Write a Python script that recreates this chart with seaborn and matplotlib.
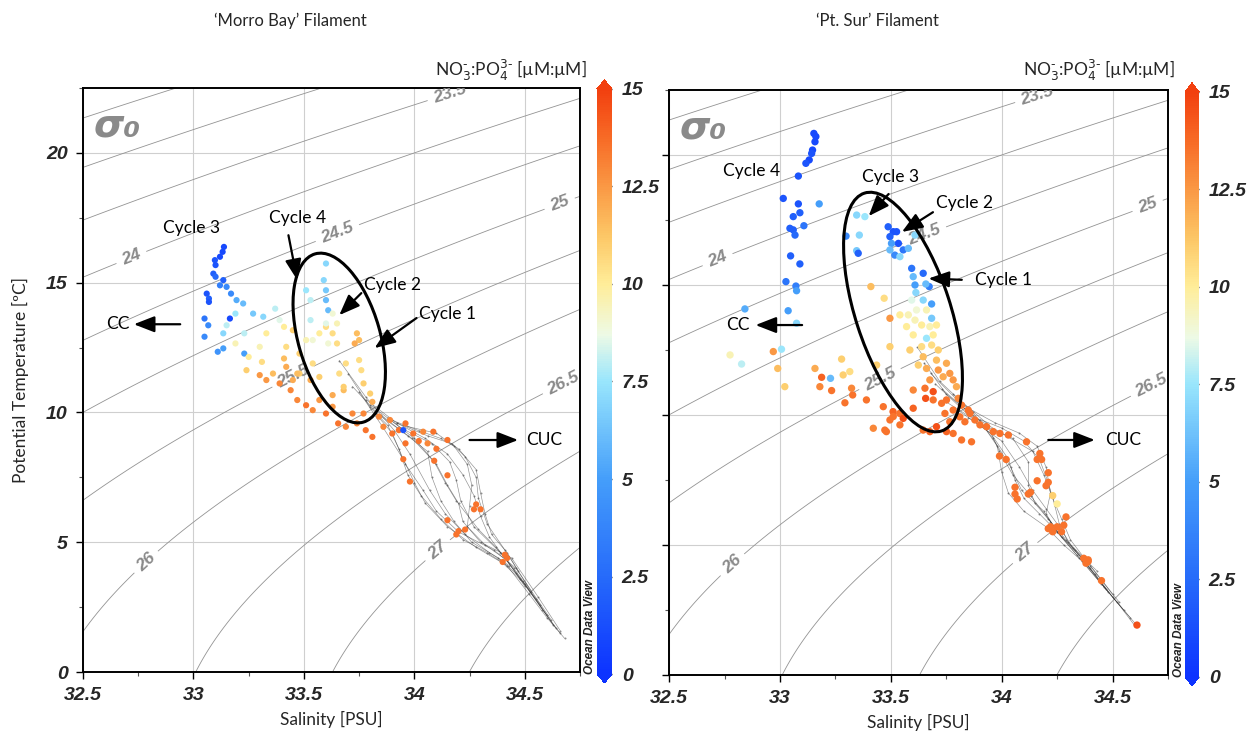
import numpy as np
import pandas as pd
import matplotlib
matplotlib.use("Agg")
import matplotlib.pyplot as plt
import seaborn as sns
from matplotlib.colors import LinearSegmentedColormap, Normalize
from matplotlib.patches import Ellipse
from matplotlib.transforms import ScaledTranslation
import matplotlib.cm as cm

# ---------------------------------------------------------------------------
# Bottle samples: salinity [PSU], potential temperature [degC], NO3:PO4 ratio
# ---------------------------------------------------------------------------
morro_sal = [33.138, 33.132, 33.12, 33.097, 33.10, 33.09, 33.10, 33.135, 33.06, 33.07,
             33.07, 33.12, 33.15, 33.17, 33.195, 33.225, 33.165, 33.05, 33.067, 33.05,
             33.135, 33.11, 33.23, 33.27, 33.316, 33.37, 33.39, 33.15, 33.19, 33.25,
             33.31, 33.36, 33.42, 33.24, 33.30, 33.33, 33.39, 33.44, 33.47, 33.51,
             33.54, 33.60, 33.655, 33.69, 33.74, 33.78, 33.81, 33.86, 33.90, 33.93,
             33.995, 34.04, 34.086, 33.84, 33.77, 33.57, 33.63, 33.68, 33.45, 33.48,
             33.53, 33.57, 33.54, 33.48, 33.42, 33.51, 33.57, 33.60, 33.63, 33.65,
             33.74, 33.75, 33.73, 33.75, 33.76, 33.77, 33.69, 33.66, 33.68, 33.80,
             33.81, 33.60, 33.59, 33.60, 33.60, 33.61, 33.51, 33.53, 33.60, 33.61,
             33.53, 33.54, 33.65, 33.63, 33.45, 33.41, 33.33, 33.30, 33.19, 33.23,
             33.135, 33.47, 33.41, 33.63, 33.72, 33.89, 33.96, 34.15, 34.06, 33.96,
             33.95, 33.95, 34.09, 34.15, 33.98, 34.28, 34.30, 34.27, 34.15, 34.23,
             34.20, 34.19, 34.41, 34.42, 34.40, 34.02, 34.10]
morro_temp = [16.38, 16.19, 16.0, 15.87, 15.68, 15.35, 15.23, 15.1, 14.58, 14.39,
              14.26, 14.9, 14.84, 14.58, 14.33, 14.2, 13.62, 13.62, 13.36, 12.92,
              12.47, 12.34, 12.27, 13.81, 13.69, 14.0, 13.56, 13.36, 12.66, 12.14,
              11.95, 11.5, 11.76, 11.63, 11.44, 11.25, 11.12, 10.86, 10.48, 10.28,
              10.09, 9.96, 9.58, 9.45, 9.58, 9.32, 9.06, 9.45, 9.19, 9.32,
              9.19, 9.26, 9.26, 9.84, 9.96, 10.48, 10.67, 10.86, 11.25, 11.5,
              11.25, 11.37, 11.89, 12.27, 12.53, 12.79, 13.05, 13.3, 13.05, 12.66,
              13.05, 12.79, 12.66, 12.02, 11.63, 11.12, 11.89, 11.5, 10.99, 10.73,
              10.41, 15.74, 15.1, 14.71, 14.33, 13.94, 14.71, 14.33, 13.43, 12.66,
              13.56, 12.79, 13.43, 13.81, 13.17, 13.3, 13.05, 12.53, 13.81, 13.05,
              13.05, 11.5, 12.08, 10.22, 9.96, 9.71, 9.58, 8.94, 8.81, 8.81,
              9.32, 8.2, 8.14, 7.58, 7.34, 6.46, 6.27, 6.27, 5.85, 5.49,
              5.43, 5.3, 4.52, 4.39, 4.24, 8.9, 8.6]
morro_ratio = [1, 1, 1, 1.5, 1.5, 2, 2.5, 2, 1.5, 2,
               1.5, 3.5, 4, 4, 5.5, 6, 1, 3, 4, 4,
               5, 4.5, 5, 6.5, 7, 8, 8.5, 8, 9.5, 10,
               10.5, 11.5, 12, 11, 12.5, 12.5, 13, 13, 13, 13.5,
               13, 13.5, 13.5, 13, 13, 13.5, 13.5, 13, 13.5, 13.5,
               13.5, 13, 13.5, 13, 13, 12.5, 12, 11.5, 12, 11,
               12, 11, 10.5, 11, 10.5, 9.5, 10, 10.5, 10.5, 10.5,
               11.5, 11.5, 12, 10.5, 10.5, 11, 10.5, 10.5, 11, 11,
               12, 7, 7, 6.5, 6, 6, 7.5, 8, 8.5, 9,
               8, 9, 9.5, 9, 11, 10, 10, 9.5, 7.5, 8,
               7, 11.5, 11.5, 12.5, 13, 13, 13.5, 13.5, 13, 13.5,
               1.5, 13.5, 13.5, 13.5, 13.5, 13.5, 13.5, 13.5, 13.5, 13.5,
               13.5, 13.5, 13.5, 13.5, 13.5, 13.5, 13.5]

sur_sal = [33.153, 33.162, 33.158, 33.147, 33.143, 33.132, 33.117, 33.083, 33.015, 33.083,
           33.09, 33.06, 33.045, 33.06, 33.068, 33.108, 33.048, 33.09, 33.027, 33.072,
           33.075, 33.037, 33.177, 32.842, 33.075, 33.007, 32.827, 32.775, 32.97, 32.99,
           33.022, 33.158, 33.188, 33.18, 33.233, 33.228, 33.285, 33.315, 33.278, 33.323,
           33.328, 33.39, 33.293, 33.436, 33.41, 33.47, 33.496, 33.496, 33.466, 33.51,
           33.54, 33.496, 33.48, 33.556, 33.601, 33.346, 33.383, 33.358, 33.298, 33.346,
           33.353, 33.488, 33.511, 33.496, 33.526, 33.534, 33.503, 33.556, 33.518, 33.496,
           33.541, 33.609, 33.579, 33.594, 33.646, 33.601, 33.609, 33.673, 33.658, 33.613,
           33.594, 33.646, 33.684, 33.616, 33.579, 33.661, 33.684, 33.541, 33.609, 33.639,
           33.676, 33.706, 33.571, 33.601, 33.661, 33.691, 33.639, 33.684, 33.586, 33.714,
           33.646, 33.706, 33.751, 33.661, 33.624, 33.714, 33.766, 33.781, 33.736, 33.676,
           33.796, 33.601, 33.654, 33.691, 33.691, 33.729, 33.751, 33.804, 33.819, 33.781,
           33.744, 33.849, 33.857, 33.811, 33.766, 33.834, 33.879, 33.902, 33.932, 33.962,
           33.992, 34.03, 33.706, 33.676, 33.646, 33.751, 33.781, 33.819, 33.864, 34.112,
           34.172, 33.541, 33.421, 33.473, 33.511, 33.657, 33.99, 34.02, 34.16, 34.18,
           34.21, 34.16, 34.21, 34.20, 34.06, 34.06, 34.12, 34.13, 34.07, 34.23,
           34.25, 34.29, 34.22, 34.23, 34.21, 34.25, 34.27, 34.28, 34.37, 34.39,
           34.38, 34.39, 34.45, 34.61]
sur_temp = [20.83, 20.71, 20.51, 20.19, 20.06, 19.81, 19.68, 19.19, 18.33, 18.12,
            17.78, 17.63, 17.18, 17.12, 16.92, 17.28, 16.12, 15.81, 15.13, 14.96,
            14.78, 14.01, 18.12, 14.08, 13.53, 12.53, 11.96, 12.31, 12.44, 11.79,
            11.09, 11.79, 11.45, 11.09, 10.94, 11.41, 11.54, 11.67, 12.15, 11.03,
            10.77, 10.58, 10.47, 11.92, 14.94, 14.49, 13.72, 12.63, 10.32, 10.13,
            10.06, 9.81, 9.36, 9.87, 10.26, 17.69, 17.63, 16.92, 16.88, 16.32,
            16.22, 17.24, 17.05, 16.86, 17.05, 16.6, 16.6, 16.35, 16.15, 16.35,
            16.09, 16.92, 16.41, 15.64, 15.45, 15.32, 15.0, 14.94, 15.04, 14.71,
            14.42, 14.42, 14.27, 14.04, 13.85, 14.04, 13.72, 13.85, 13.65, 13.46,
            13.4, 13.46, 13.4, 13.08, 12.95, 13.08, 12.63, 12.69, 12.5, 12.5,
            12.24, 12.11, 11.99, 11.79, 11.92, 11.73, 11.6, 11.35, 11.47, 11.35,
            11.09, 10.96, 11.03, 10.9, 10.58, 10.45, 10.58, 10.64, 10.38, 10.19,
            10.06, 10.19, 10.06, 9.93, 9.74, 9.74, 9.81, 9.62, 9.55, 9.36,
            9.29, 9.23, 9.55, 9.36, 9.42, 9.36, 9.29, 9.04, 8.97, 8.97,
            8.52, 9.62, 9.49, 9.42, 9.94, 10.64, 8.42, 8.29, 8.29, 8.29,
            7.78, 7.47, 7.41, 7.28, 7.22, 6.96, 6.96, 7.03, 6.77, 6.9,
            6.58, 6.08, 5.7, 5.51, 5.63, 5.7, 5.51, 5.76, 4.49, 4.43,
            4.3, 4.37, 3.63, 1.92]
sur_ratio = [1, 1, 1, 1, 1.5, 1, 1.5, 1.5, 1.5, 1.5,
             2, 2, 2, 2, 2.5, 3, 2, 2, 3, 3.5,
             5, 5, 5, 5.5, 7, 7.5, 8, 9.5, 12.5, 11.5,
             11, 12, 14, 13, 13.5, 6, 11, 10.5, 11, 13,
             13.5, 13.5, 13.5, 11, 11.5, 10.5, 12.5, 11, 13.5, 14,
             13.5, 13.5, 13.5, 14.5, 14, 7, 7.5, 7, 4, 6.5,
             2, 2, 1.5, 2, 1.5, 1.5, 5, 3, 4, 6,
             7, 7, 6, 3, 2.5, 6, 5, 3.5, 6, 7,
             8.5, 7, 5, 9, 9.5, 9.5, 6.5, 10, 9.5, 10,
             9.5, 10, 10, 10, 7.5, 10, 10.5, 10.5, 11, 11,
             11.5, 11.5, 12, 12, 11, 12.5, 12.5, 12.5, 12, 12.5,
             12, 13, 13.5, 14.5, 13.5, 13.5, 13.5, 13, 13.5, 13.5,
             13.5, 13.5, 13.5, 13.5, 13.5, 13.5, 13.5, 13.5, 13.5, 13.5,
             13.5, 13.5, 14.5, 14, 13.5, 14, 13.5, 13.5, 13.5, 13.5,
             13.5, 13.5, 13, 13.5, 13.5, 14.5, 13.5, 13.5, 13.5, 13.5,
             13.5, 13.5, 13.5, 13.5, 13.5, 13.5, 13.5, 13.5, 13.5, 11,
             10, 13.5, 13.5, 13.5, 13.5, 13.5, 13.5, 13.5, 13.5, 13.5,
             13.5, 13.5, 13.5, 14.5]

# ---------------------------------------------------------------------------
# Continuous CTD casts (thin grey traces): cast id, salinity, temperature
# ---------------------------------------------------------------------------
morro_ctd_cast = ([1] * 13 + [2] * 12 + [3] * 11 + [4] * 11 + [5] * 10 + [6] * 9 + [7] * 10
                  + [8] * 9 + [9] * 10 + [10] * 10 + [11] * 9 + [12] * 9)
morro_ctd_sal = [33.70, 33.80, 33.88, 33.93, 33.97, 34.03, 34.12, 34.22, 34.33, 34.42, 34.52, 34.60, 34.68,
                 33.78, 33.92, 34.05, 34.15, 34.22, 34.27, 34.30, 34.34, 34.40, 34.48, 34.58, 34.66,
                 33.85, 33.97, 34.06, 34.08, 34.12, 34.18, 34.26, 34.38, 34.46, 34.55, 34.63,
                 33.90, 34.02, 34.12, 34.18, 34.24, 34.26, 34.25, 34.24, 34.32, 34.42, 34.50,
                 33.75, 33.86, 33.95, 34.00, 34.05, 34.15, 34.28, 34.40, 34.50, 34.60,
                 33.95, 34.10, 34.20, 34.28, 34.30, 34.32, 34.35, 34.42, 34.47,
                 33.88, 34.00, 34.10, 34.15, 34.20, 34.22, 34.30, 34.44, 34.56, 34.66,
                 33.82, 33.90, 33.96, 34.04, 34.10, 34.20, 34.36, 34.46, 34.62,
                 33.72, 33.84, 33.99, 34.09, 34.14, 34.19, 34.29, 34.37, 34.45, 34.57,
                 33.80, 33.94, 34.08, 34.16, 34.19, 34.21, 34.27, 34.39, 34.49, 34.64,
                 33.66, 33.78, 33.91, 33.98, 34.07, 34.14, 34.23, 34.34, 34.43,
                 33.92, 34.06, 34.17, 34.23, 34.28, 34.29, 34.33, 34.41, 34.53]
morro_ctd_temp = [11.5, 10.2, 9.5, 8.6, 7.6, 6.8, 5.9, 5.1, 4.6, 4.1, 3.0, 2.1, 1.3,
                  10.5, 9.6, 9.0, 8.4, 7.6, 6.8, 6.0, 5.2, 4.5, 3.6, 2.4, 1.5,
                  9.9, 9.1, 8.5, 7.5, 6.6, 5.8, 5.0, 4.4, 3.8, 2.8, 1.8,
                  9.7, 9.3, 9.0, 8.7, 8.0, 7.2, 6.4, 5.6, 4.9, 4.3, 3.3,
                  10.8, 9.4, 8.2, 7.3, 6.5, 5.6, 4.8, 4.2, 3.4, 2.2,
                  9.5, 9.2, 8.6, 7.8, 6.9, 6.1, 5.3, 4.6, 3.9,
                  9.8, 9.0, 8.0, 7.2, 6.5, 5.8, 5.0, 4.4, 2.9, 1.6,
                  10.0, 9.2, 8.0, 7.0, 6.2, 5.4, 4.7, 4.0, 2.0,
                  11.0, 9.9, 9.0, 8.1, 7.3, 6.6, 5.5, 4.8, 4.0, 2.6,
                  10.3, 9.4, 8.8, 8.1, 7.4, 6.6, 5.6, 4.6, 3.5, 1.7,
                  12.0, 10.6, 9.3, 8.4, 7.0, 6.1, 5.3, 4.6, 4.1,
                  9.6, 9.1, 8.8, 8.3, 7.5, 6.7, 5.7, 4.7, 3.1]

sur_ctd_cast = ([1] * 13 + [2] * 12 + [3] * 12 + [4] * 10 + [5] * 12 + [6] * 9
                + [7] * 10 + [8] * 10 + [9] * 9)
sur_ctd_sal = [33.65, 33.75, 33.90, 33.98, 34.00, 34.03, 34.10, 34.20, 34.28, 34.36, 34.44, 34.52, 34.60,
               33.70, 33.85, 34.00, 34.10, 34.17, 34.21, 34.24, 34.26, 34.30, 34.38, 34.46, 34.55,
               33.75, 33.92, 34.05, 34.12, 34.12, 34.15, 34.22, 34.27, 34.34, 34.42, 34.50, 34.60,
               33.80, 33.95, 34.03, 34.06, 34.10, 34.17, 34.24, 34.33, 34.40, 34.48,
               33.68, 33.82, 33.97, 34.08, 34.16, 34.20, 34.22, 34.20, 34.25, 34.35, 34.45, 34.58,
               33.85, 34.00, 34.08, 34.14, 34.20, 34.26, 34.32, 34.40, 34.50,
               33.62, 33.72, 33.87, 33.96, 34.04, 34.09, 34.19, 34.25, 34.36, 34.47,
               33.73, 33.88, 34.02, 34.14, 34.19, 34.23, 34.27, 34.31, 34.39, 34.53,
               33.78, 33.93, 33.99, 34.05, 34.13, 34.21, 34.29, 34.37, 34.43]
sur_ctd_temp = [12.0, 10.8, 9.8, 8.8, 7.8, 7.0, 6.3, 5.7, 5.0, 4.4, 3.6, 2.8, 1.9,
                11.2, 10.0, 9.5, 9.0, 8.3, 7.4, 6.5, 5.8, 5.1, 4.3, 3.4, 2.5,
                10.5, 9.6, 9.1, 8.2, 7.3, 6.6, 5.9, 5.3, 4.6, 3.9, 3.0, 2.0,
                10.2, 9.3, 8.3, 7.5, 6.8, 6.2, 5.6, 4.8, 4.1, 3.2,
                11.6, 10.4, 9.7, 9.3, 8.8, 8.0, 7.0, 6.2, 5.5, 4.5, 3.5, 2.2,
                9.9, 9.0, 8.0, 7.1, 6.4, 5.7, 4.9, 4.2, 3.1,
                12.6, 11.3, 10.1, 9.1, 8.0, 7.1, 6.3, 5.5, 4.5, 3.3,
                11.0, 9.9, 9.2, 8.6, 7.7, 6.8, 6.0, 5.2, 4.3, 2.8,
                10.8, 9.7, 8.6, 7.7, 6.9, 6.0, 5.2, 4.5, 4.0]

# Isopycnal levels (sigma-0) and their label anchors (salinity, temperature)
sigma_levels = [21.0, 21.5, 22.0, 22.5, 23.0, 23.5, 24.0, 24.5, 25.0, 25.5,
                26.0, 26.5, 27.0, 27.5, 28.0]
sigma_label_sal = [34.16, 32.72, 33.65, 34.66, 33.45, 34.68, 32.79, 34.11]
sigma_label_temp = [22.3, 15.95, 16.95, 18.0, 11.4, 11.05, 4.2, 4.65]

panel_titles = ["\u2018Morro Bay\u2019 Filament", "\u2018Pt. Sur\u2019 Filament"]
sal_ticks = [32.5, 33, 33.5, 34, 34.5]
sal_tick_labels = ["32.5", "33", "33.5", "34", "34.5"]
temp_ticks = [0, 5, 10, 15, 20]
ratio_ticks = [0, 2.5, 5, 7.5, 10, 12.5, 15]
ratio_tick_labels = ["0", "2.5", "5", "7.5", "10", "12.5", "15"]

# Water-mass / cycle annotations: (text, text_S, text_T, tail_S, tail_T, head_S, head_T)
morro_notes = [("Cycle 3", 32.99, 17.1, None, None, None, None),
               ("Cycle 4", 33.47, 17.5, 33.43, 16.83, 33.47, 15.1),
               ("Cycle 2", 33.90, 14.9, 33.76, 14.6, 33.66, 13.75),
               ("Cycle 1", 34.15, 13.8, 34.01, 13.64, 33.82, 12.48),
               ("CC", 32.66, 13.4, 32.94, 13.4, 32.73, 13.4),
               ("CUC", 34.59, 8.94, 34.25, 8.94, 34.47, 8.94)]
sur_notes = [("Cycle 4", 32.87, 19.4, None, None, None, None),
             ("Cycle 3", 33.50, 19.15, 33.49, 18.5, 33.40, 17.65),
             ("Cycle 2", 33.83, 18.15, 33.69, 17.8, 33.55, 17.04),
             ("Cycle 1", 34.01, 15.2, 33.82, 15.2, 33.67, 15.25),
             ("CC", 32.81, 13.46, 33.10, 13.46, 32.89, 13.46),
             ("CUC", 34.55, 9.04, 34.21, 9.04, 34.42, 9.04)]

# Highlighted water masses: centre (S, T), width/height (inches), tilt (deg)
morro_ellipse = (33.66, 12.87, 0.82, 1.75, 16)
sur_ellipse = (33.555, 13.96, 0.95, 2.5, 18)


def sigma0(s, t):
    """UNESCO EOS-80 surface density anomaly."""
    rho_w = (999.842594 + 6.793952e-2 * t - 9.095290e-3 * t ** 2
             + 1.001685e-4 * t ** 3 - 1.120083e-6 * t ** 4 + 6.536332e-9 * t ** 5)
    a = (8.24493e-1 - 4.0899e-3 * t + 7.6438e-5 * t ** 2
         - 8.2467e-7 * t ** 3 + 5.3875e-9 * t ** 4)
    b = -5.72466e-3 + 1.0227e-4 * t - 1.6546e-6 * t ** 2
    c = 4.8314e-4
    return rho_w + a * s + b * s ** 1.5 + c * s ** 2 - 1000.0


sns.set_theme(style="white")
plt.rcParams['font.family'] = ['Lato', 'DejaVu Sans']
plt.rcParams['axes.unicode_minus'] = False

odv = LinearSegmentedColormap.from_list("odv", [
    (0.000, (0.05, 0.20, 1.00)),
    (0.167, (0.15, 0.42, 0.98)),
    (0.333, (0.27, 0.62, 0.98)),
    (0.500, (0.60, 0.90, 0.99)),
    (0.580, (0.93, 0.98, 0.90)),
    (0.667, (1.00, 0.93, 0.60)),
    (0.750, (0.99, 0.78, 0.40)),
    (0.833, (0.98, 0.60, 0.27)),
    (0.917, (0.97, 0.42, 0.15)),
    (1.000, (0.95, 0.25, 0.06)),
])
norm = Normalize(0, 15)

tick_font = dict(family='Liberation Sans', weight='bold', style='italic', size=14)
iso_grey = '#939393'

fig = plt.figure(figsize=(12.6, 7.42), dpi=100)
ax_l = fig.add_axes([0.0659, 0.0943, 0.3944, 0.7870])
ax_r = fig.add_axes([0.5310, 0.0903, 0.3960, 0.7884])
cax_l = fig.add_axes([0.4738, 0.0795, 0.0119, 0.8127])
cax_r = fig.add_axes([0.9405, 0.0755, 0.0111, 0.8127])

sg, tg = np.meshgrid(np.linspace(32.5, 34.75, 300), np.linspace(0, 22.5, 300))
dens = sigma0(sg, tg)

panels = [
    (ax_l, cax_l, morro_sal, morro_temp, morro_ratio, morro_ctd_cast, morro_ctd_sal,
     morro_ctd_temp, morro_notes, morro_ellipse, panel_titles[0], 20, True),
    (ax_r, cax_r, sur_sal, sur_temp, sur_ratio, sur_ctd_cast, sur_ctd_sal,
     sur_ctd_temp, sur_notes, sur_ellipse, panel_titles[1], 28, False),
]

ratio_label = "NO$_3^{\\text{-}}$:PO$_4^{3\\text{-}}$ [\u00b5M:\u00b5M]"

for (ax, cax, s, t, r, cid, cs_, ct_, notes, ell, title, msize, show_y) in panels:
    ax.set_xlim(32.5, 34.75)
    ax.set_ylim(0, 22.5)
    ax.set_facecolor('white')

    # isopycnals
    cs = ax.contour(sg, tg, dens, levels=sigma_levels, colors=iso_grey,
                    linewidths=0.6, zorder=1)
    labels = ax.clabel(cs, fmt=lambda v: f"{v:g}", inline=True, inline_spacing=6,
                       fontsize=12.5, manual=list(zip(sigma_label_sal, sigma_label_temp)))
    for lab in labels:
        lab.set_fontweight('bold')
        lab.set_fontstyle('italic')
        lab.set_fontfamily('Liberation Sans')
        lab.set_color('#8a8a8a')
        lab.set_clip_on(True)
        lab.set_clip_path(ax.patch)

    # CTD traces
    ctd = pd.DataFrame({"cast": cid, "sal": cs_, "temp": ct_})
    sns.lineplot(data=ctd, x="sal", y="temp", units="cast", estimator=None, sort=False,
                 color='#1e1e1e', linewidth=0.45, alpha=0.5, ax=ax, zorder=2)
    sns.scatterplot(data=ctd, x="sal", y="temp", color='#444444', s=2, linewidth=0,
                    alpha=0.6, ax=ax, zorder=2, legend=False)

    # bottle samples coloured by nutrient ratio
    df = pd.DataFrame({"sal": s, "temp": t, "ratio": r})
    sns.scatterplot(data=df, x="sal", y="temp", hue="ratio", palette=odv, hue_norm=norm,
                    s=msize, linewidth=0, legend=False, ax=ax, zorder=3)

    # highlighted water mass
    cx, cy, w, h, ang = ell
    ax.add_patch(Ellipse((0, 0), w, h, angle=ang, fill=False, lw=2.2, ec='black',
                         transform=fig.dpi_scale_trans + ScaledTranslation(cx, cy, ax.transData),
                         zorder=5))

    # annotations
    for txt, xs, yt, x0, y0, x1, y1 in notes:
        ax.text(xs, yt, txt, fontsize=12.5, ha='center', va='center', color='black', zorder=6)
        if x0 is not None:
            ax.annotate("", xy=(x1, y1), xytext=(x0, y0),
                        arrowprops=dict(arrowstyle="-|>,head_length=0.9,head_width=0.35",
                                        color='black', lw=1.6, mutation_scale=14,
                                        shrinkA=0, shrinkB=0), zorder=6)

    ax.text(0.022, 0.968, "\u03c3\u2080", transform=ax.transAxes, ha='left', va='top',
            fontsize=28, fontweight='bold', fontstyle='italic', family='DejaVu Sans',
            color='#8a8a8a', zorder=6)

    # axes styling
    ax.set_xticks(sal_ticks)
    ax.set_xticks([32.75, 33.25, 33.75, 34.25, 34.75], minor=True)
    ax.set_yticks(temp_ticks)
    ax.set_yticks([2.5, 7.5, 12.5, 17.5, 22.5], minor=True)
    ax.set_xticklabels(sal_tick_labels, fontdict=tick_font)
    if show_y:
        ax.set_yticklabels([str(v) for v in temp_ticks], fontdict=tick_font)
        ax.set_ylabel("Potential Temperature [\u00baC]", fontsize=12.5, labelpad=12)
    else:
        ax.set_yticklabels([])
        ax.set_ylabel("")
    ax.set_xlabel("Salinity [PSU]", fontsize=12.5, labelpad=5)
    ax.tick_params(which='major', direction='out', length=5, width=1.0, color='black',
                   bottom=True, left=True, pad=6)
    ax.tick_params(which='minor', direction='out', length=3, width=0.8, color='#555555',
                   bottom=True, left=True)
    ax.grid(True, which='major', color='#cfcfcf', linewidth=0.8, zorder=0)
    ax.set_axisbelow(True)
    for sp in ax.spines.values():
        sp.set_color('black')
        sp.set_linewidth(1.4)

    # colour bar
    sm = cm.ScalarMappable(norm=norm, cmap=odv)
    cb = fig.colorbar(sm, cax=cax, extend='both', extendfrac=0.0154, ticks=ratio_ticks)
    cb.outline.set_visible(False)
    cb.ax.set_yticklabels(ratio_tick_labels, fontdict=tick_font)
    cb.ax.tick_params(length=3, width=1, color='#333333', direction='in', pad=7)
    cax.text(-0.45, 0.0, "Ocean Data View", transform=cax.transAxes, rotation=90,
             ha='center', va='bottom', fontsize=8.5, fontstyle='italic', fontweight='bold',
             family='Liberation Sans', color='#222222')

    # headers
    pos = ax.get_position()
    fig.text((pos.x0 + pos.x1) / 2 - 0.033, 0.972, title, ha='center', va='center',
             fontsize=12)
    cpos = cax.get_position()
    fig.text(cpos.x0 - 0.008, 0.905, ratio_label, ha='right', va='center', fontsize=12.5)

fig.savefig("out.png", dpi=100)
